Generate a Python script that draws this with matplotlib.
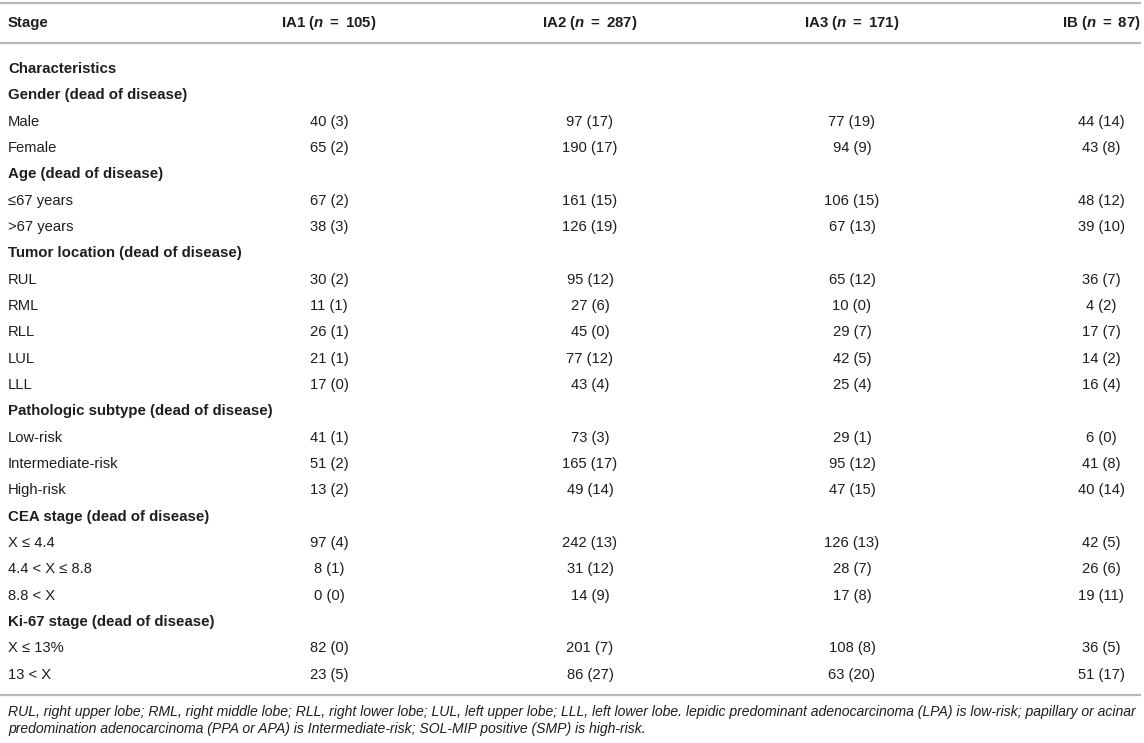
import matplotlib
matplotlib.use("Agg")
import matplotlib.pyplot as plt

plt.rcParams['font.family'] = ['Liberation Sans', 'DejaVu Sans']
plt.rcParams['mathtext.fontset'] = 'custom'
plt.rcParams['mathtext.it'] = 'Liberation Sans:italic:bold'
plt.rcParams['mathtext.rm'] = 'Liberation Sans:bold'

# column headers
stages = ["IA1", "IA2", "IA3", "IB"]
stage_n = [105, 287, 171, 87]

# sections and their rows
section_titles = ["Gender (dead of disease)", "Age (dead of disease)",
                  "Tumor location (dead of disease)", "Pathologic subtype (dead of disease)",
                  "CEA stage (dead of disease)", "Ki-67 stage (dead of disease)"]
section_sizes = [2, 2, 5, 3, 3, 2]
row_labels = ["Male", "Female",
              "≤67 years", ">67 years",
              "RUL", "RML", "RLL", "LUL", "LLL",
              "Low-risk", "Intermediate-risk", "High-risk",
              "X ≤ 4.4", "4.4 < X ≤ 8.8", "8.8 < X",
              "X ≤ 13%", "13 < X"]

ia1_total = [40, 65, 67, 38, 30, 11, 26, 21, 17, 41, 51, 13, 97, 8, 0, 82, 23]
ia1_dead = [3, 2, 2, 3, 2, 1, 1, 1, 0, 1, 2, 2, 4, 1, 0, 0, 5]
ia2_total = [97, 190, 161, 126, 95, 27, 45, 77, 43, 73, 165, 49, 242, 31, 14, 201, 86]
ia2_dead = [17, 17, 15, 19, 12, 6, 0, 12, 4, 3, 17, 14, 13, 12, 9, 7, 27]
ia3_total = [77, 94, 106, 67, 65, 10, 29, 42, 25, 29, 95, 47, 126, 28, 17, 108, 63]
ia3_dead = [19, 9, 15, 13, 12, 0, 7, 5, 4, 1, 12, 15, 13, 7, 8, 8, 20]
ib_total = [44, 43, 48, 39, 36, 4, 17, 14, 16, 6, 41, 40, 42, 26, 19, 36, 51]
ib_dead = [14, 8, 12, 10, 7, 2, 7, 2, 4, 0, 8, 14, 5, 6, 11, 5, 17]

footnote_1 = ("RUL, right upper lobe; RML, right middle lobe; RLL, right lower lobe; LUL, left upper lobe; "
              "LLL, left lower lobe. lepidic predominant adenocarcinoma (LPA) is low-risk; papillary or acinar")
footnote_2 = "predomination adenocarcinoma (PPA or APA) is Intermediate-risk; SOL-MIP positive (SMP) is high-risk."

W, H = 1144, 743
fig = plt.figure(figsize=(W / 100, H / 100), dpi=100)
ax = fig.add_axes([0, 0, 1, 1])
ax.set_xlim(0, W)
ax.set_ylim(H, 0)
ax.axis('off')

txt = '#1e1e1e'
line_c = '#b8b8b8'
fs = 10.6
fs_b = 10.8
left_x = 8
col_x = [329, 590, 852, 1101]

# rules
for y in (3, 43, 695):
    ax.plot([0, 1141], [y, y], color=line_c, lw=1.6, solid_capstyle='butt')

# header
ax.text(left_x, 23, "Stage", fontsize=fs_b, fontweight='bold', color=txt, va='center')
for x, s, n in zip(col_x, stages, stage_n):
    ax.text(x, 23, s + r" ($n$ $=$ " + str(n) + ")", fontsize=fs_b, fontweight='bold',
            color=txt, va='center', ha='center')

columns = [(ia1_total, ia1_dead), (ia2_total, ia2_dead),
           (ia3_total, ia3_dead), (ib_total, ib_dead)]

y0 = 69
dy = 26.33
row = 0
ax.text(left_x, y0, "Characteristics", fontsize=fs_b, fontweight='bold', color=txt, va='center')
row += 1
k = 0
for title, size in zip(section_titles, section_sizes):
    y = y0 + row * dy
    ax.text(left_x, y, title, fontsize=fs_b, fontweight='bold', color=txt, va='center')
    row += 1
    for _ in range(size):
        y = y0 + row * dy
        ax.text(left_x, y, row_labels[k], fontsize=fs, color=txt, va='center')
        for x, (tot, dead) in zip(col_x, columns):
            ax.text(x, y, f"{tot[k]} ({dead[k]})", fontsize=fs, color=txt,
                    va='center', ha='center')
        row += 1
        k += 1

# footnote, sized so the first line fills the width like the original
t1 = ax.text(left_x, 712, footnote_1, fontsize=9, style='italic', color=txt, va='center')
t2 = ax.text(left_x, 729, footnote_2, fontsize=9, style='italic', color=txt, va='center')
fig.canvas.draw()
wpx = t1.get_window_extent().width
new_fs = 9 * (1140 - left_x) / wpx
t1.set_fontsize(new_fs)
t2.set_fontsize(new_fs)

fig.savefig("out.png", dpi=100)
